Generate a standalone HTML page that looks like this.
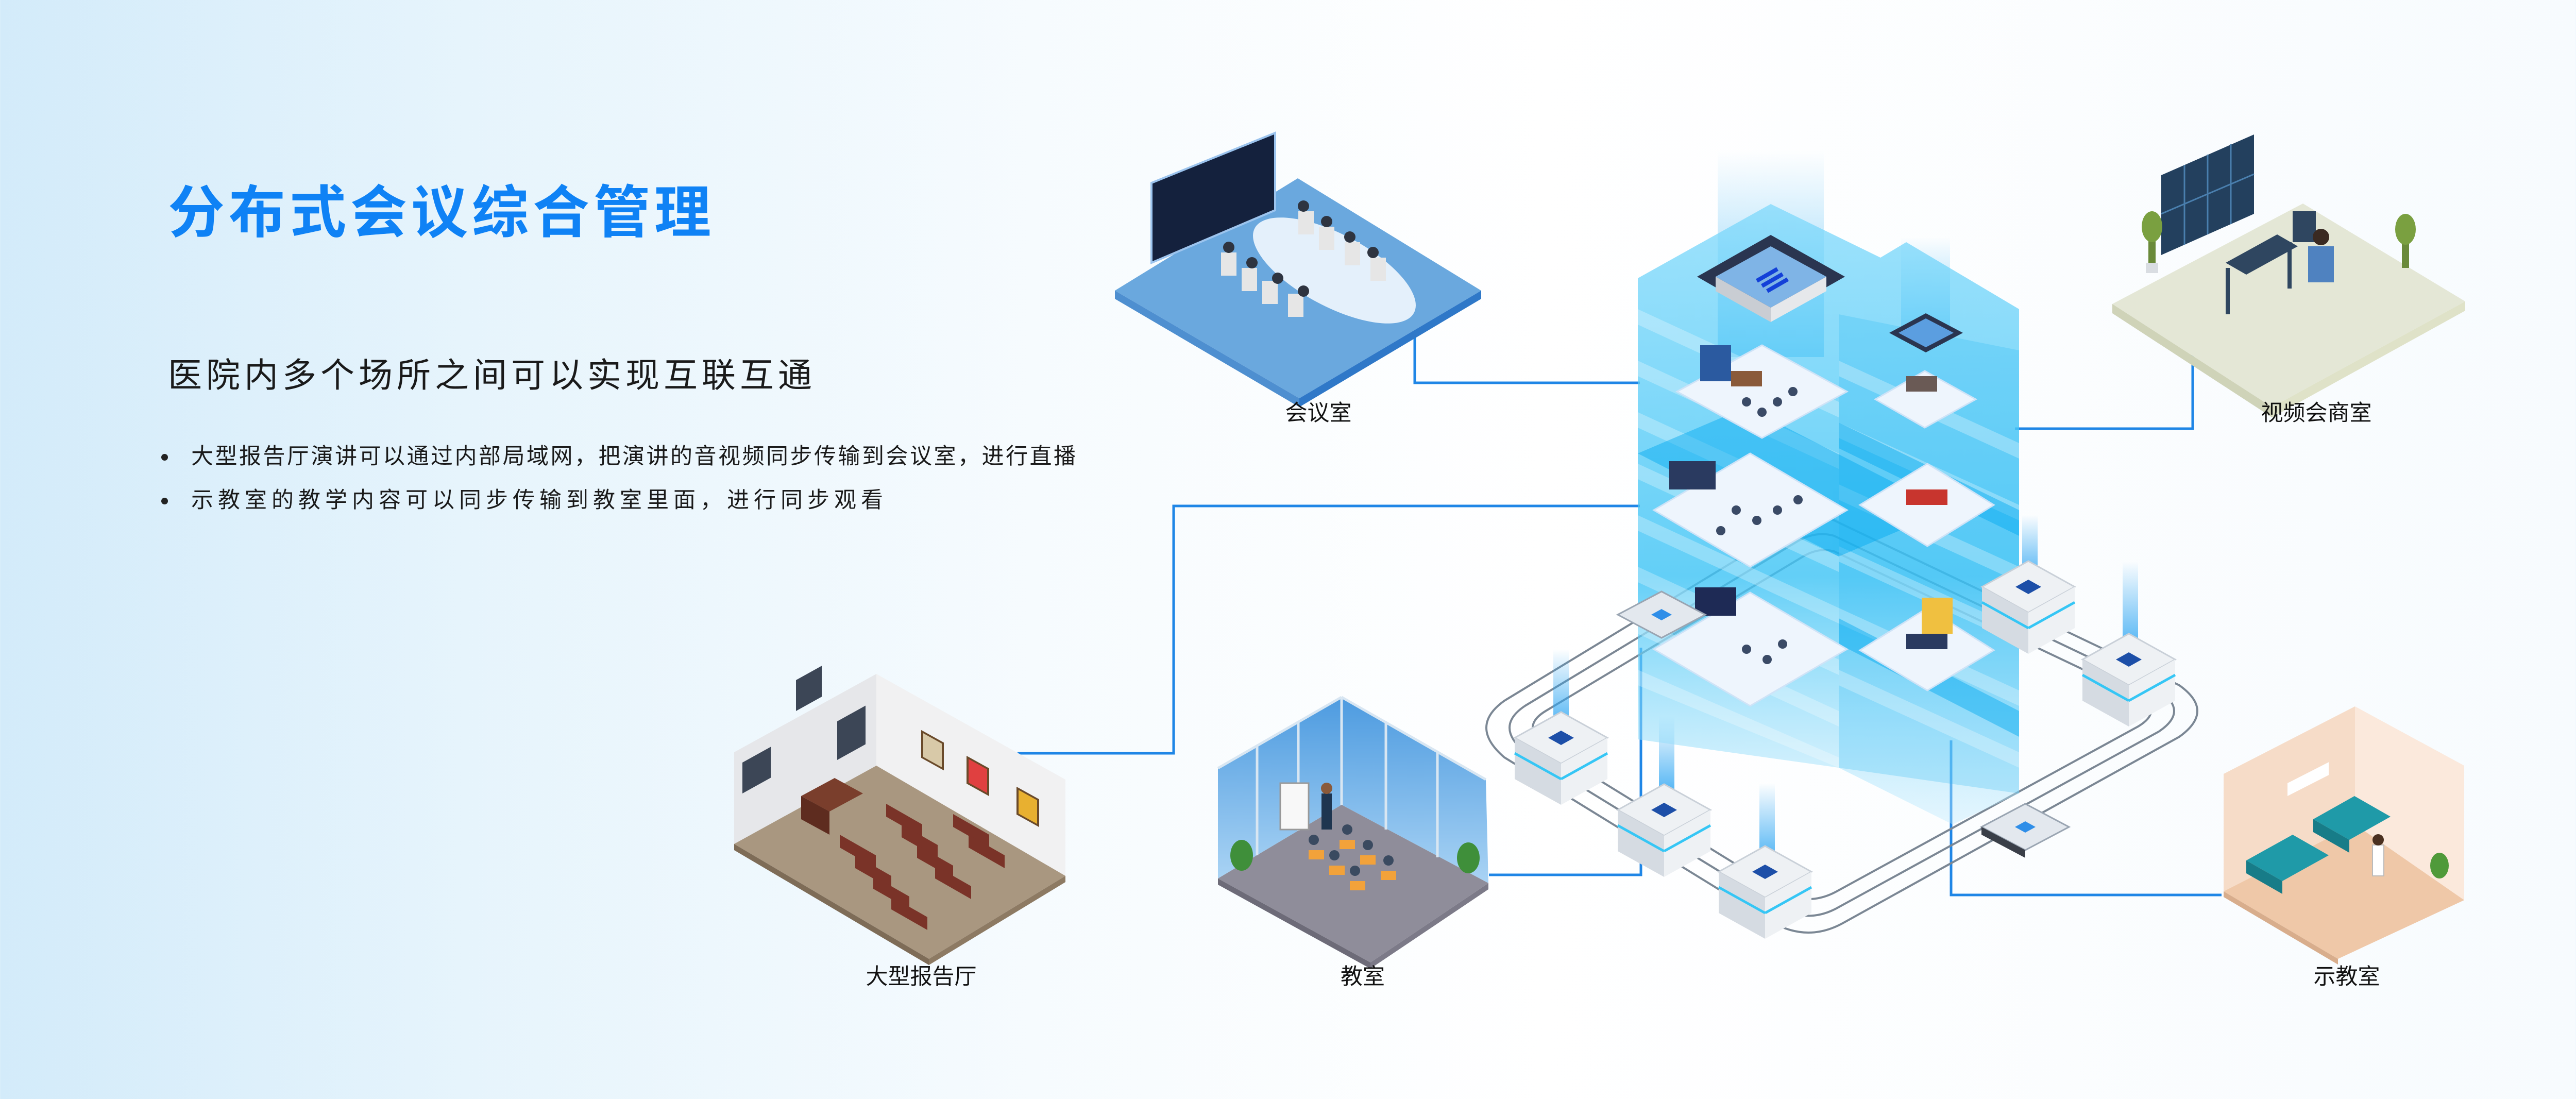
<!DOCTYPE html>
<html><head><meta charset="utf-8">
<style>
html,body{margin:0;padding:0}
body{width:5119px;height:2133px;overflow:hidden;position:relative;
background:linear-gradient(90deg,#d3ebfa 0%,#e6f4fc 18%,#f6fbfe 40%,#ffffff 60%,#f7fbfe 100%);
font-family:"Liberation Sans","Noto Sans CJK SC",sans-serif;}
.t{position:absolute;white-space:nowrap;color:#1a1a1a}
#title{left:326px;top:352px;font-size:110px;font-weight:bold;color:#0f82f5;letter-spacing:8px;line-height:124px}
#sub{left:326px;top:688px;font-size:66px;letter-spacing:8px;line-height:80px}
.b{font-size:43px;line-height:50px;left:371px}
.dot{position:absolute;width:13px;height:13px;border-radius:50%;background:#222;left:313px}
svg{position:absolute;left:0;top:0}
</style></head><body>
<div id="title" class="t">分布式会议综合管理</div>
<div id="sub" class="t">医院内多个场所之间可以实现互联互通</div>
<div class="dot" style="top:881px"></div>
<div class="t b" style="top:861px;letter-spacing:3.5px">大型报告厅演讲可以通过内部局域网，把演讲的音视频同步传输到会议室，进行直播</div>
<div class="dot" style="top:966px"></div>
<div class="t b" style="top:946px;letter-spacing:9px">示教室的教学内容可以同步传输到教室里面，进行同步观看</div>

<svg width="5119" height="2133" viewBox="0 0 5119 2133">
<defs>
<linearGradient id="tw" x1="0" y1="0" x2="0" y2="1">
<stop offset="0" stop-color="#7fd9fb" stop-opacity=".75"/>
<stop offset=".6" stop-color="#3cc3f5" stop-opacity=".8"/>
<stop offset="1" stop-color="#bfeafd" stop-opacity=".4"/></linearGradient>
<linearGradient id="beam" x1="0" y1="0" x2="0" y2="1">
<stop offset="0" stop-color="#6fc8f7" stop-opacity="0"/>
<stop offset="1" stop-color="#4bb8f5" stop-opacity=".8"/></linearGradient>
<linearGradient id="vb" x1="0" y1="0" x2="0" y2="1">
<stop offset="0" stop-color="#2fa6f2" stop-opacity="0"/>
<stop offset="1" stop-color="#2fa6f2" stop-opacity=".9"/></linearGradient>
<linearGradient id="glass" x1="0" y1="0" x2="0" y2="1">
<stop offset="0" stop-color="#4d9be0"/><stop offset="1" stop-color="#a9d3f4"/></linearGradient>
</defs>

<g fill="none" stroke="#1f86e6" stroke-width="5">
<polyline points="2746,645 2746,743 3183,743"/>
<polyline points="4256,686 4256,832 3911,832"/>
<polyline points="1975,1462 2278,1462 2278,982 3183,982"/>
<polyline points="2890,1698 3185,1698 3185,1257"/>
<polyline points="3787,1437 3787,1737 4312,1737"/>
</g>

<g fill="none" stroke="#7b8794" stroke-width="4">
<path d="M3560,1010 L4230,1330 Q4300,1380 4230,1430 L3580,1790 Q3510,1830 3440,1790 L2920,1470 Q2850,1410 2920,1360 L3480,1020 Q3520,995 3560,1010Z"/>
<path d="M3560,1040 L4190,1340 Q4250,1380 4190,1420 L3570,1760 Q3510,1795 3450,1760 L2960,1460 Q2900,1410 2960,1370 L3490,1050 Q3525,1030 3560,1040Z"/>
<path d="M3560,1070 L4150,1350 Q4200,1380 4150,1410 L3565,1730 Q3510,1760 3455,1730 L3000,1450 Q2950,1410 3000,1380 L3500,1080 Q3530,1062 3560,1070Z"/>
</g>

<rect x="3334" y="293" width="206" height="400" fill="url(#beam)"/>
<rect x="3690" y="460" width="95" height="200" fill="url(#beam)"/>
<rect x="3015" y="1260" width="30" height="160" fill="url(#vb)"/>
<rect x="3220" y="1390" width="30" height="160" fill="url(#vb)"/>
<rect x="3415" y="1520" width="30" height="160" fill="url(#vb)"/>
<rect x="3925" y="1000" width="30" height="130" fill="url(#vb)"/>
<rect x="4120" y="1090" width="30" height="180" fill="url(#vb)"/>

<polygon points="3179,540 3437,396 3650,500 3700,470 3919,600 3919,1540 3790,1600 3569,1490 3179,1435" fill="url(#tw)"/>
<polygon points="3569,610 3919,680 3919,1540 3569,1490" fill="#28b7f2" opacity=".25"/>
<g fill="#ffffff" opacity=".28">
<polygon points="3179,600 3569,780 3569,810 3179,630"/>
<polygon points="3179,700 3569,880 3569,910 3179,730"/>
<polygon points="3179,800 3569,980 3569,1010 3179,830"/>
<polygon points="3179,900 3569,1080 3569,1110 3179,930"/>
<polygon points="3179,1000 3569,1180 3569,1210 3179,1030"/>
<polygon points="3179,1100 3569,1280 3569,1310 3179,1130"/>
<polygon points="3179,1200 3569,1380 3569,1410 3179,1230"/>
<polygon points="3179,1300 3569,1470 3569,1490 3179,1330"/>
<polygon points="3569,700 3919,860 3919,890 3569,730"/>
<polygon points="3569,820 3919,980 3919,1010 3569,850"/>
<polygon points="3569,940 3919,1100 3919,1130 3569,970"/>
<polygon points="3569,1060 3919,1220 3919,1250 3569,1090"/>
<polygon points="3569,1180 3919,1340 3919,1370 3569,1210"/>
<polygon points="3569,1300 3919,1460 3919,1490 3569,1330"/>
</g>
<g fill="#00a9f0" opacity=".45">
<polygon points="3179,880 3569,1080 3780,990 3390,790"/>
<polygon points="3569,820 3919,990 3919,1040 3569,870"/>
<polygon points="3569,1200 3919,1380 3919,1430 3569,1250"/>
</g>
<polygon points="3294,537 3437,456 3581,537 3437,619" fill="#2a3550"/>
<polygon points="3330,537 3437,478 3545,537 3437,597" fill="#7fb4e6"/>
<polygon points="3330,537 3437,597 3437,625 3330,565" fill="#c9cdd3"/>
<polygon points="3437,597 3545,537 3545,565 3437,625" fill="#e6e8eb"/>
<g stroke="#1340d8" stroke-width="8"><line x1="3410" y1="545" x2="3450" y2="522"/><line x1="3420" y1="555" x2="3460" y2="532"/><line x1="3430" y1="565" x2="3470" y2="542"/></g>
<polygon points="3667,646 3738,608 3810,646 3738,684" fill="#2a3550"/>
<polygon points="3685,646 3738,618 3792,646 3738,674" fill="#5b9ee0"/>
<g fill="#eef5fd" stroke="#cfe3f7" stroke-width="3">
<polygon points="3255,760 3420,670 3585,760 3420,850"/>
<polygon points="3210,990 3397,880 3585,990 3397,1100"/>
<polygon points="3210,1260 3397,1150 3585,1260 3397,1370"/>
<polygon points="3640,775 3736,720 3835,775 3736,830"/>
<polygon points="3610,980 3741,900 3870,980 3741,1060"/>
<polygon points="3610,1262 3741,1180 3870,1262 3741,1340"/>
</g>
<g>
<rect x="3300" y="670" width="60" height="70" fill="#2b5aa0"/>
<rect x="3360" y="720" width="60" height="30" fill="#8a5a3a"/>
<rect x="3240" y="895" width="90" height="55" fill="#2a3a60"/>
<rect x="3290" y="1140" width="80" height="55" fill="#1e2a55"/>
<rect x="3700" y="730" width="60" height="30" fill="#6a5a55"/>
<rect x="3700" y="950" width="80" height="30" fill="#c8352e"/>
<rect x="3730" y="1160" width="60" height="70" fill="#f0c040"/>
<rect x="3700" y="1230" width="80" height="30" fill="#2a3a60"/>
</g>
<g fill="#3a4a66">
<circle cx="3390" cy="780" r="9"/><circle cx="3420" cy="800" r="9"/><circle cx="3450" cy="780" r="9"/><circle cx="3480" cy="760" r="9"/>
<circle cx="3370" cy="990" r="9"/><circle cx="3410" cy="1010" r="9"/><circle cx="3450" cy="990" r="9"/><circle cx="3490" cy="970" r="9"/><circle cx="3340" cy="1030" r="9"/>
<circle cx="3390" cy="1260" r="9"/><circle cx="3430" cy="1280" r="9"/><circle cx="3460" cy="1250" r="9"/>
</g>

<g>
<g transform="translate(3030,1432)">
<polygon points="-90,0 0,-50 90,0 0,50" fill="#eef1f4" stroke="#c9d0d8" stroke-width="3"/>
<polygon points="-90,0 0,50 0,130 -90,80" fill="#d5dbe2"/><polygon points="0,50 90,0 90,80 0,130" fill="#eef1f4"/>
<line x1="-90" y1="30" x2="0" y2="80" stroke="#35c6f5" stroke-width="5"/><line x1="0" y1="80" x2="90" y2="30" stroke="#35c6f5" stroke-width="5"/>
<polygon points="-25,0 0,-14 25,0 0,14" fill="#1d4fa8"/></g>
<g transform="translate(3230,1572)">
<polygon points="-90,0 0,-50 90,0 0,50" fill="#eef1f4" stroke="#c9d0d8" stroke-width="3"/>
<polygon points="-90,0 0,50 0,130 -90,80" fill="#d5dbe2"/><polygon points="0,50 90,0 90,80 0,130" fill="#eef1f4"/>
<line x1="-90" y1="30" x2="0" y2="80" stroke="#35c6f5" stroke-width="5"/><line x1="0" y1="80" x2="90" y2="30" stroke="#35c6f5" stroke-width="5"/>
<polygon points="-25,0 0,-14 25,0 0,14" fill="#1d4fa8"/></g>
<g transform="translate(3426,1692)">
<polygon points="-90,0 0,-50 90,0 0,50" fill="#eef1f4" stroke="#c9d0d8" stroke-width="3"/>
<polygon points="-90,0 0,50 0,130 -90,80" fill="#d5dbe2"/><polygon points="0,50 90,0 90,80 0,130" fill="#eef1f4"/>
<line x1="-90" y1="30" x2="0" y2="80" stroke="#35c6f5" stroke-width="5"/><line x1="0" y1="80" x2="90" y2="30" stroke="#35c6f5" stroke-width="5"/>
<polygon points="-25,0 0,-14 25,0 0,14" fill="#1d4fa8"/></g>
<g transform="translate(3937,1139)">
<polygon points="-90,0 0,-50 90,0 0,50" fill="#eef1f4" stroke="#c9d0d8" stroke-width="3"/>
<polygon points="-90,0 0,50 0,130 -90,80" fill="#d5dbe2"/><polygon points="0,50 90,0 90,80 0,130" fill="#eef1f4"/>
<line x1="-90" y1="30" x2="0" y2="80" stroke="#35c6f5" stroke-width="5"/><line x1="0" y1="80" x2="90" y2="30" stroke="#35c6f5" stroke-width="5"/>
<polygon points="-25,0 0,-14 25,0 0,14" fill="#1d4fa8"/></g>
<g transform="translate(4132,1280)">
<polygon points="-90,0 0,-50 90,0 0,50" fill="#eef1f4" stroke="#c9d0d8" stroke-width="3"/>
<polygon points="-90,0 0,50 0,130 -90,80" fill="#d5dbe2"/><polygon points="0,50 90,0 90,80 0,130" fill="#eef1f4"/>
<line x1="-90" y1="30" x2="0" y2="80" stroke="#35c6f5" stroke-width="5"/><line x1="0" y1="80" x2="90" y2="30" stroke="#35c6f5" stroke-width="5"/>
<polygon points="-25,0 0,-14 25,0 0,14" fill="#1d4fa8"/></g>
<g transform="translate(3225,1193)">
<polygon points="-85,0 0,-45 85,0 0,45" fill="#e3e8ee" stroke="#9aa5b2" stroke-width="3"/>
<polygon points="-20,0 0,-11 20,0 0,11" fill="#2f8ee8"/></g>
<g transform="translate(3931,1605)">
<polygon points="-85,0 0,-45 85,0 0,45" fill="#e3e8ee" stroke="#9aa5b2" stroke-width="3"/>
<polygon points="-85,0 0,45 0,60 -85,15" fill="#3a3f48"/>
<polygon points="-20,0 0,-11 20,0 0,11" fill="#2f8ee8"/></g>
</g>

<!-- 会议室 -->
<polygon points="2164,564 2519,346 2875,564 2522,773" fill="#6aa8de"/>
<polygon points="2164,564 2522,773 2522,790 2164,580" fill="#4e8fd0"/>
<polygon points="2522,773 2875,564 2875,580 2522,790" fill="#2f78c8"/>
<polygon points="2235,355 2475,258 2475,408 2235,510" fill="#14213d" stroke="#9cc4ee" stroke-width="4"/>
<ellipse cx="2590" cy="525" rx="175" ry="70" transform="rotate(28 2590 525)" fill="#e4f0fb"/>
<g fill="#e6e6e6"><rect x="2370" y="490" width="30" height="45"/><rect x="2410" y="520" width="30" height="45"/><rect x="2450" y="545" width="30" height="45"/><rect x="2500" y="570" width="30" height="45"/><rect x="2520" y="410" width="30" height="45"/><rect x="2560" y="440" width="30" height="45"/><rect x="2610" y="470" width="30" height="45"/><rect x="2660" y="500" width="30" height="45"/></g>
<g fill="#2e3440"><circle cx="2385" cy="480" r="11"/><circle cx="2430" cy="510" r="11"/><circle cx="2480" cy="540" r="11"/><circle cx="2530" cy="565" r="11"/><circle cx="2530" cy="400" r="11"/><circle cx="2575" cy="430" r="11"/><circle cx="2620" cy="460" r="11"/><circle cx="2665" cy="490" r="11"/></g>
<text x="2559" y="816" font-size="43" text-anchor="middle" fill="#111" font-family="Liberation Sans,Noto Sans CJK SC,sans-serif">会议室</text>

<!-- 视频会商室 -->
<polygon points="4100,590 4470,395 4785,585 4410,790" fill="#e4e7d6"/>
<polygon points="4100,590 4410,790 4410,810 4100,608" fill="#cfd3b8"/>
<polygon points="4410,790 4785,585 4785,603 4410,810" fill="#dfe2c8"/>
<polygon points="4195,340 4375,261 4375,415 4195,495" fill="#23405e"/>
<g stroke="#4a7fae" stroke-width="3"><line x1="4240" y1="320" x2="4240" y2="475"/><line x1="4285" y1="300" x2="4285" y2="455"/><line x1="4330" y1="280" x2="4330" y2="435"/><line x1="4195" y1="415" x2="4375" y2="338"/></g>
<polygon points="4320,510 4420,455 4460,478 4360,533" fill="#2f4660"/>
<rect x="4320" y="520" width="8" height="90" fill="#2f4660"/><rect x="4440" y="470" width="8" height="90" fill="#2f4660"/>
<rect x="4450" y="410" width="45" height="60" fill="#2f4660"/>
<circle cx="4505" cy="460" r="16" fill="#3a2a22"/><rect x="4480" y="478" width="50" height="70" fill="#4f82c0"/>
<rect x="4170" y="430" width="14" height="80" fill="#6a8a3a"/><ellipse cx="4177" cy="440" rx="20" ry="30" fill="#7aa040"/><rect x="4165" y="510" width="24" height="20" fill="#d9dde2"/>
<rect x="4662" y="440" width="14" height="80" fill="#6a8a3a"/><ellipse cx="4669" cy="445" rx="20" ry="30" fill="#7aa040"/>
<text x="4496" y="816" font-size="43" text-anchor="middle" fill="#111" font-family="Liberation Sans,Noto Sans CJK SC,sans-serif">视频会商室</text>

<!-- 大型报告厅 -->
<polygon points="1425,1460 1701,1308 1701,1486 1425,1638" fill="#e6e7ea"/>
<polygon points="1701,1308 2068,1513 2068,1700 1701,1486" fill="#f1f1f2"/>
<polygon points="1701,1486 2068,1700 1803,1861 1425,1638" fill="#a99780"/>
<polygon points="1425,1638 1803,1861 1803,1873 1425,1650" fill="#7e6c57"/>
<polygon points="1803,1861 2068,1700 2068,1712 1803,1873" fill="#8d7a63"/>
<rect x="1441" y="1480" width="55" height="60" fill="#3c4656" transform="skewY(-29)" transform-origin="1441 1480"/>
<rect x="1545" y="1320" width="50" height="60" fill="#3c4656" transform="skewY(-29)" transform-origin="1545 1320"/>
<rect x="1625" y="1400" width="55" height="75" fill="#3c4656" transform="skewY(-29)" transform-origin="1625 1400"/>
<rect x="1790" y="1420" width="40" height="50" fill="#d8c9a8" stroke="#6a4a2a" stroke-width="4" transform="skewY(29)" transform-origin="1790 1420"/>
<rect x="1878" y="1470" width="40" height="50" fill="#e04040" stroke="#6a4a2a" stroke-width="4" transform="skewY(29)" transform-origin="1878 1470"/>
<rect x="1975" y="1530" width="40" height="50" fill="#e8b030" stroke="#6a4a2a" stroke-width="4" transform="skewY(29)" transform-origin="1975 1530"/>
<polygon points="1555,1545 1620,1510 1675,1540 1610,1575" fill="#7a3e2c"/>
<polygon points="1555,1545 1610,1575 1610,1620 1555,1590" fill="#5e2c1f"/>
<g fill="#7a3328">
<polygon points="1720,1560 1790,1600 1790,1625 1720,1585"/><polygon points="1750,1600 1820,1640 1820,1665 1750,1625"/>
<polygon points="1780,1640 1850,1680 1850,1705 1780,1665"/><polygon points="1815,1680 1885,1720 1885,1745 1815,1705"/>
<polygon points="1630,1620 1700,1660 1700,1685 1630,1645"/><polygon points="1660,1660 1730,1700 1730,1725 1660,1685"/>
<polygon points="1695,1700 1765,1740 1765,1765 1695,1725"/><polygon points="1730,1740 1800,1780 1800,1805 1730,1765"/>
<polygon points="1850,1580 1920,1620 1920,1645 1850,1605"/><polygon points="1880,1620 1950,1660 1950,1685 1880,1645"/>
</g>
<text x="1788" y="1910" font-size="43" text-anchor="middle" fill="#111" font-family="Liberation Sans,Noto Sans CJK SC,sans-serif">大型报告厅</text>

<!-- 教室 -->
<polygon points="2364,1491 2604,1353 2604,1562 2364,1705" fill="url(#glass)"/>
<polygon points="2604,1353 2884,1513 2889,1714 2604,1562" fill="url(#glass)"/>
<polygon points="2604,1562 2889,1714 2660,1868 2364,1705" fill="#8f8d9a"/>
<polygon points="2364,1705 2660,1868 2660,1880 2364,1717" fill="#6d6b78"/>
<polygon points="2660,1868 2889,1714 2889,1726 2660,1880" fill="#7c7a88"/>
<g stroke="#d8e6f2" stroke-width="5"><line x1="2364" y1="1491" x2="2604" y2="1353"/><line x1="2604" y1="1353" x2="2884" y2="1513"/><line x1="2604" y1="1353" x2="2604" y2="1562"/><line x1="2440" y1="1447" x2="2440" y2="1660"/><line x1="2520" y1="1400" x2="2520" y2="1612"/><line x1="2690" y1="1400" x2="2690" y2="1610"/><line x1="2790" y1="1458" x2="2790" y2="1664"/></g>
<rect x="2485" y="1520" width="55" height="90" fill="#f8f8f8" stroke="#999" stroke-width="3"/>
<rect x="2565" y="1540" width="20" height="70" fill="#1e3550"/><circle cx="2575" cy="1530" r="11" fill="#8a5a3a"/>
<g fill="#f2a23a"><rect x="2540" y="1650" width="30" height="18"/><rect x="2580" y="1680" width="30" height="18"/><rect x="2620" y="1710" width="30" height="18"/><rect x="2600" y="1630" width="30" height="18"/><rect x="2640" y="1660" width="30" height="18"/><rect x="2680" y="1690" width="30" height="18"/></g>
<g fill="#3a4a60"><circle cx="2550" cy="1630" r="10"/><circle cx="2590" cy="1660" r="10"/><circle cx="2630" cy="1690" r="10"/><circle cx="2615" cy="1610" r="10"/><circle cx="2655" cy="1640" r="10"/><circle cx="2695" cy="1670" r="10"/></g>
<ellipse cx="2410" cy="1660" rx="22" ry="30" fill="#3f8f3a"/><ellipse cx="2850" cy="1665" rx="22" ry="30" fill="#3f8f3a"/>
<text x="2645" y="1910" font-size="43" text-anchor="middle" fill="#111" font-family="Liberation Sans,Noto Sans CJK SC,sans-serif">教室</text>

<!-- 示教室 -->
<polygon points="4316,1502 4571,1371 4571,1600 4316,1730" fill="#f6dcc8"/>
<polygon points="4571,1371 4783,1486 4783,1747 4571,1600" fill="#fbe9dc"/>
<polygon points="4571,1600 4783,1747 4538,1861 4316,1730" fill="#efc8a8"/>
<polygon points="4316,1730 4538,1861 4538,1872 4316,1741" fill="#d8ad8c"/>
<rect x="4440" y="1520" width="80" height="25" fill="#ffffff" transform="skewY(-27)" transform-origin="4440 1520"/>
<polygon points="4360,1670 4450,1620 4520,1660 4430,1710" fill="#1f9aa8"/>
<polygon points="4360,1670 4430,1710 4430,1735 4360,1695" fill="#177c88"/>
<polygon points="4490,1590 4570,1545 4640,1585 4560,1630" fill="#1f9aa8"/>
<polygon points="4490,1590 4560,1630 4560,1655 4490,1615" fill="#177c88"/>
<rect x="4605" y="1640" width="22" height="60" fill="#ffffff" stroke="#bbb" stroke-width="2"/><circle cx="4616" cy="1630" r="11" fill="#4a3020"/>
<ellipse cx="4735" cy="1680" rx="18" ry="25" fill="#4f9a3a"/>
<text x="4555" y="1910" font-size="43" text-anchor="middle" fill="#111" font-family="Liberation Sans,Noto Sans CJK SC,sans-serif">示教室</text>
</svg>
</body></html>
